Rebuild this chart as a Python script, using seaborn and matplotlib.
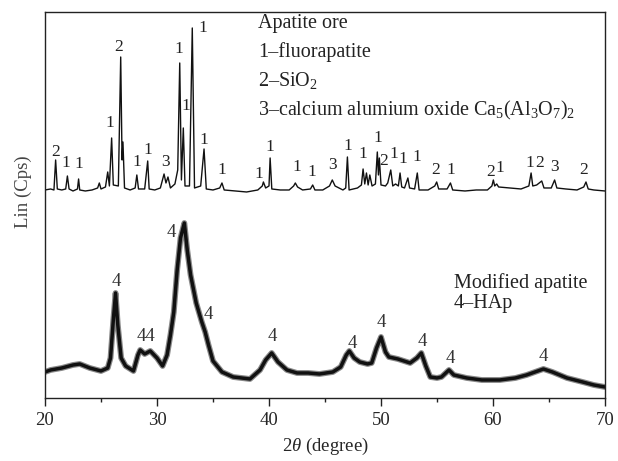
import matplotlib
matplotlib.use('Agg')
import matplotlib.pyplot as plt
import seaborn as sns

# XRD pattern of the apatite ore (top trace)
ore_2theta = [20.0, 20.5, 20.8, 20.95, 21.1, 21.5, 21.85, 22.0, 22.15, 22.5,
              22.9, 23.0, 23.1, 23.6, 24.2, 24.7, 24.85, 25.0, 25.4, 25.6,
              25.75, 25.95, 26.1, 26.55, 26.76, 26.88, 26.96, 27.1, 27.6, 28.05,
              28.2, 28.35, 28.9, 29.17, 29.3, 29.8, 30.3, 30.63, 30.8, 30.98,
              31.2, 31.6, 31.85, 32.03, 32.18, 32.35, 32.5, 32.9, 33.15, 33.35,
              33.9, 34.2, 34.4, 35.0, 35.6, 35.8, 36.0, 37.0, 38.0, 39.0,
              39.4, 39.5, 39.7, 40.0, 40.1, 40.25, 41.0, 41.8, 42.2, 42.35,
              42.55, 43.0, 43.7, 43.9, 44.1, 44.8, 45.4, 45.65, 45.9, 46.6,
              46.85, 47.0, 47.15, 47.9, 48.25, 48.4, 48.55, 48.7, 48.85, 49.0,
              49.2, 49.5, 49.67, 49.77, 49.85, 50.0, 50.4, 50.6, 50.87, 51.05,
              51.3, 51.55, 51.7, 51.85, 52.1, 52.4, 52.55, 53.0, 53.24, 53.4,
              54.2, 54.8, 54.97, 55.15, 55.9, 56.2, 56.4, 57.5, 58.5, 59.5,
              59.9, 60.03, 60.15, 60.33, 60.5, 61.5, 62.5, 63.2, 63.4, 63.55,
              63.9, 64.35, 64.55, 65.2, 65.5, 65.7, 66.5, 67.5, 68.1, 68.3,
              68.5, 69.0, 70.0]
ore_lin = [208, 209, 208, 238, 209, 208, 209, 222, 209, 207,
           209, 219, 208, 207, 208, 210, 215, 209, 211, 226,
           212, 260, 213, 212, 341, 238, 256, 210, 208, 210,
           223, 209, 209, 237, 209, 208, 210, 224, 215, 221,
           210, 214, 228, 335, 218, 270, 212, 212, 370, 210,
           212, 249, 209, 208, 210, 215, 208, 207, 206, 208,
           212, 216, 210, 212, 240, 209, 208, 208, 212, 215,
           211, 208, 209, 213, 208, 208, 212, 218, 212, 208,
           210, 241, 208, 210, 213, 229, 214, 225, 213, 223,
           212, 214, 246, 223, 240, 213, 212, 215, 228, 212,
           214, 212, 225, 211, 210, 220, 210, 209, 225, 208,
           208, 212, 216, 209, 209, 215, 208, 207, 208, 208,
           212, 218, 212, 214, 211, 210, 209, 212, 225, 212,
           213, 217, 210, 210, 218, 210, 209, 208, 211, 216,
           209, 208, 207]

# XRD pattern of the modified apatite (bottom trace)
hap_2theta = [20.0, 20.5, 21.5, 22.5, 23.1, 24.0, 25.0, 25.6, 25.85, 26.1,
              26.3, 26.5, 26.8, 27.2, 27.9, 28.3, 28.5, 28.9, 29.4, 30.0,
              30.5, 30.9, 31.2, 31.5, 31.8, 32.1, 32.44, 32.7, 33.0, 33.5,
              34.0, 34.3, 34.6, 35.0, 35.8, 36.8, 38.3, 39.2, 39.7, 40.24,
              40.8, 41.6, 42.5, 43.5, 44.5, 45.7, 46.4, 46.9, 47.17, 47.6,
              48.1, 48.8, 49.17, 49.6, 50.0, 50.4, 50.7, 51.5, 52.6, 53.2,
              53.6, 54.0, 54.4, 55.0, 55.4, 56.07, 56.5, 57.65, 59.0, 60.6,
              62.0, 63.0, 64.0, 64.5, 65.3, 66.6, 68.0, 69.0, 70.0]
hap_lin = [26, 28, 30, 33, 34, 30, 27, 30, 40, 78,
           105, 73, 40, 32, 27, 43, 48, 44, 47, 40,
           32, 43, 63, 86, 128, 160, 175, 148, 123, 95,
           76, 66, 53, 37, 26, 21, 19, 28, 38, 45,
           36, 28, 25, 25, 24, 26, 31, 43, 47, 40,
           36, 34, 35, 50, 61, 46, 41, 39, 35, 40,
           45, 32, 21, 20, 21, 28, 23, 20, 18, 18,
           20, 23, 27, 29, 26, 20, 16, 13, 11]

# peak markers
ore_marks = ['2', '1', '1', '1', '2', '1', '1', '3', '1', '1',
             '1', '1', '1', '1', '1', '1', '1', '3', '1', '1',
             '1', '2', '1', '1', '1', '2', '1', '2', '1', '1',
             '2', '3', '2']
ore_mark_x = [20.95, 21.9, 23.0, 25.8, 26.6, 28.2, 29.17, 30.8, 31.96, 32.55,
              34.08, 34.2, 35.8, 39.05, 40.1, 42.5, 43.8, 45.65, 47.0, 48.4,
              49.7, 50.25, 51.15, 51.95, 53.24, 54.9, 56.25, 59.8, 60.6, 63.3,
              64.13, 65.5, 68.1]
ore_mark_y = [246, 235, 234, 275, 351, 236, 248, 236, 349, 292,
              370, 258, 228, 224, 251, 231, 226, 233, 252, 244,
              260, 237, 244, 239, 241, 228, 228, 226, 230, 235,
              235, 231, 228]
hap_marks = ['4', '44', '4', '4', '4', '4', '4', '4', '4', '4']
hap_mark_x = [26.4, 29.0, 31.3, 34.6, 40.3, 47.4, 50.0, 53.7, 56.2, 64.5]
hap_mark_y = [116, 61, 165, 83, 61, 54, 75, 56, 39, 41]

ore_notes = ['Apatite ore', '1\u2013fluorapatite', '2\u2013SiO$_2$',
             '3\u2013calcium alumium oxide Ca$_5$(Al$_3$O$_7$)$_2$']
hap_notes = ['Modified apatite', '4\u2013HAp']

sns.set_theme(style='ticks')
plt.rcParams['font.family'] = ['Liberation Serif', 'DejaVu Serif']
plt.rcParams['mathtext.fontset'] = 'custom'
plt.rcParams['mathtext.rm'] = 'Liberation Serif'
plt.rcParams['mathtext.it'] = 'Liberation Serif:italic'

fig = plt.figure(figsize=(6.18, 4.61), dpi=100)
ax = fig.add_axes([0.0728, 0.1367, 0.9062, 0.8373])

sns.lineplot(x=hap_2theta, y=hap_lin, ax=ax, color='#888888', lw=4.2,
             estimator=None, sort=False)
sns.lineplot(x=hap_2theta, y=hap_lin, ax=ax, color='#111111', lw=2.5,
             estimator=None, sort=False)
sns.lineplot(x=ore_2theta, y=ore_lin, ax=ax, color='#111111', lw=1.0,
             estimator=None, sort=False)

for t, x, y in zip(ore_marks, ore_mark_x, ore_mark_y):
    ax.text(x, y, t, ha='center', va='center', fontsize=12.5, color='#222222')
for t, x, y in zip(hap_marks, hap_mark_x, hap_mark_y):
    ax.text(x, y, t, ha='center', va='center', fontsize=13.5, color='#333333')

for i, t in enumerate(ore_notes):
    ax.text(39.0, 370 - 29 * i, t, ha='left', va='baseline', fontsize=14.5,
            color='#222222')
for i, t in enumerate(hap_notes):
    ax.text(56.5, 110 - 20 * i, t, ha='left', va='baseline', fontsize=14.5,
            color='#222222')

ax.set_xlim(20, 70)
ax.set_ylim(0, 386)
ax.set_xticks([20, 30, 40, 50, 60, 70])
ax.set_xticks([25, 35, 45, 55, 65], minor=True)
ax.set_yticks([])
ax.tick_params(axis='x', which='major', direction='out', length=6, width=1,
               labelsize=13.5, color='#222222', pad=4)
ax.tick_params(axis='x', which='minor', direction='out', length=3, width=1,
               color='#222222')
for s in ax.spines.values():
    s.set_visible(True)
    s.set_color('#222222')
    s.set_linewidth(1.0)

ax.set_xlabel('2$\\theta$ (degree)', fontsize=13.5, labelpad=5)
ax.set_ylabel('Lin (Cps)', fontsize=13.5, color='#444444')
ax.yaxis.set_label_coords(-0.023, 0.534)

fig.savefig('out.png', dpi=100)
